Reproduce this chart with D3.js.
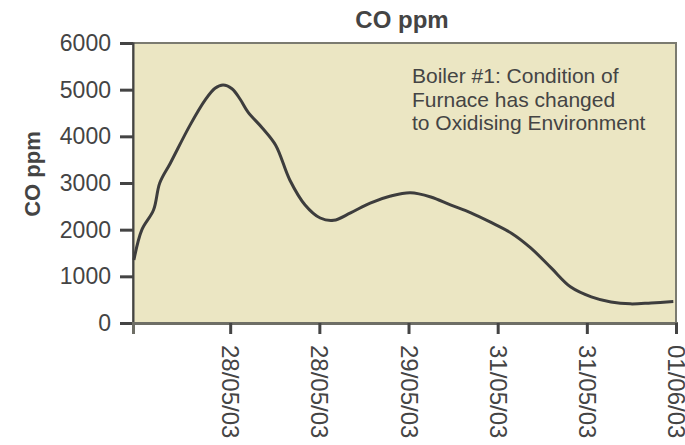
<!DOCTYPE html>
<html>
<head>
<meta charset="utf-8">
<script src="https://cdn.jsdelivr.net/npm/d3@7"></script>
<style>
  body { margin: 0; background: #fff; }
  text { font-family: "Liberation Sans", Arial, sans-serif; fill: #444; }
</style>
</head>
<body>
<div id="chart"></div>
<script>
// x in tick units (tick 1..6), y in ppm
const xs = [-0.08, 0.01, 0.14, 0.21, 0.33, 0.55, 0.72, 0.83, 0.92, 1.02, 1.11, 1.2, 1.36, 1.51, 1.67, 1.84, 2.01, 2.16, 2.35, 2.57, 2.8, 3.02, 3.25, 3.47, 3.7, 3.92, 4.15, 4.37, 4.6, 4.82, 5.05, 5.27, 5.49, 5.72, 5.97];
const ys = [1350, 2000, 2420, 3000, 3430, 4240, 4780, 5030, 5100, 5020, 4800, 4520, 4180, 3810, 3060, 2530, 2250, 2200, 2360, 2570, 2720, 2790, 2700, 2530, 2360, 2160, 1930, 1610, 1180, 770, 560, 450, 410, 430, 460];
const tickLabels = ["28/05/03", "28/05/03", "29/05/03", "31/05/03", "31/05/03", "01/06/03"];
const tickPos = [1, 2, 3, 4, 5, 6];
const yTicks = [0, 1000, 2000, 3000, 4000, 5000, 6000];
const note = ["Boiler #1: Condition of", "Furnace has changed", "to Oxidising Environment"];

const W = 685, H = 445;
const margin = {top: 43, right: 9, bottom: 122, left: 133};
const width = W - margin.left - margin.right,
    height = H - margin.top - margin.bottom;

const svg = d3.select("#chart").append("svg")
    .attr("width", W)
    .attr("height", H);

const g = svg.append("g")
    .attr("transform", `translate(${margin.left},${margin.top})`);

const x = d3.scaleLinear().domain([-0.09, 6]).range([0, width]);
const y = d3.scaleLinear().domain([0, 6000]).range([height, 0]);

// plot background + top/right border
g.append("rect")
    .attr("width", width)
    .attr("height", height)
    .attr("fill", "#ebe6c3")
    .attr("stroke", "#7b7b70")
    .attr("stroke-width", 2);

const yAxis = g.append("g")
    .call(d3.axisLeft(y).tickValues(yTicks).tickSize(13).tickPadding(9).tickFormat(d3.format("d")));
yAxis.select(".domain").attr("stroke", "#444").attr("stroke-width", 2);
yAxis.selectAll(".tick line").attr("stroke", "#444").attr("stroke-width", 3);
yAxis.selectAll("text").attr("font-size", 23).attr("fill", "#444")
    .attr("font-family", "Liberation Sans, Arial, sans-serif");

const xAxis = g.append("g")
    .attr("transform", `translate(0,${height})`)
    .call(d3.axisBottom(x).tickValues(tickPos).tickSize(11)
        .tickFormat((d, i) => tickLabels[i]));
xAxis.select(".domain").attr("stroke", "#6e6e66").attr("stroke-width", 3);
xAxis.selectAll(".tick line").attr("stroke", "#444").attr("stroke-width", 3);
xAxis.selectAll("text")
    .attr("font-size", 24).attr("fill", "#444")
    .attr("font-family", "Liberation Sans, Arial, sans-serif")
    .attr("text-anchor", "start")
    .attr("transform", "rotate(90)")
    .attr("x", 22).attr("y", 0).attr("dy", "0.35em");

const data = xs.map((d, i) => [d, ys[i]]);
g.append("path")
    .datum(data)
    .attr("fill", "none")
    .attr("stroke", "#3d3d3d")
    .attr("stroke-width", 3)
    .attr("d", d3.line().x(d => x(d[0])).y(d => y(d[1])).curve(d3.curveCatmullRom));

// annotation
g.append("text")
    .attr("x", 279)
    .attr("y", 40)
    .attr("font-size", 21)
    .selectAll("tspan")
    .data(note)
  .enter().append("tspan")
    .attr("x", 279)
    .attr("dy", (d, i) => i === 0 ? 0 : 23.5)
    .text(d => d);

// titles
svg.append("text")
    .attr("x", 402).attr("y", 28)
    .attr("text-anchor", "middle")
    .attr("font-size", 24).attr("font-weight", "bold")
    .text("CO ppm");

svg.append("text")
    .attr("transform", "translate(40,174) rotate(-90)")
    .attr("text-anchor", "middle")
    .attr("font-size", 22).attr("font-weight", "bold")
    .text("CO ppm");
</script>
</body>
</html>
